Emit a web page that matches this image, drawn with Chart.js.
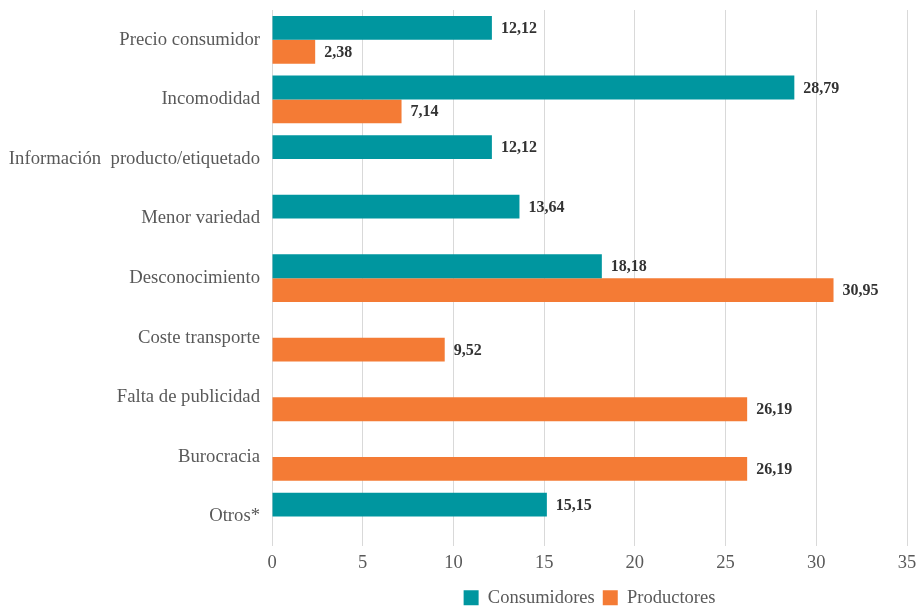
<!DOCTYPE html>
<html>
<head>
<meta charset="utf-8">
<script src="https://cdn.jsdelivr.net/npm/chart.js@4.4.0/dist/chart.umd.min.js"></script>
<style>
  body { margin: 0; background: #fff; }
  #wrap { width: 918px; height: 607px; }
</style>
</head>
<body>
<div id="wrap"><canvas id="chart"></canvas></div>
<script>
'use strict';

const categories = [
  'Precio consumidor',
  'Incomodidad',
  'Información  producto/etiquetado',
  'Menor variedad',
  'Desconocimiento',
  'Coste transporte',
  'Falta de publicidad',
  'Burocracia',
  'Otros*'
];
const consumidores = [12.12, 28.79, 12.12, 13.64, 18.18, null, null, null, 15.15];
const productores = [2.38, 7.14, null, null, 30.95, 9.52, 26.19, 26.19, null];

const serif = '"Liberation Serif", serif';

// draws the value after the end of each bar
const valueLabels = {
  id: 'valueLabels',
  afterDatasetsDraw(chart) {
    const ctx = chart.ctx;
    ctx.save();
    ctx.font = 'bold 16px ' + serif;
    ctx.fillStyle = '#333';
    ctx.textAlign = 'left';
    ctx.textBaseline = 'middle';
    chart.data.datasets.forEach((ds, i) => {
      chart.getDatasetMeta(i).data.forEach((bar, j) => {
        const v = ds.data[j];
        if (v === null) return;
        ctx.fillText(v.toFixed(2).replace('.', ','), bar.x + 9, bar.y + 1);
      });
    });
    ctx.restore();
  }
};

let canvasElem = document.getElementById('chart');

function renderChart() {
  const data = {
    labels: categories,
    datasets: [
      {
        label: 'Consumidores',
        data: consumidores,
        backgroundColor: '#00969f'
      },
      {
        label: 'Productores',
        data: productores,
        backgroundColor: '#f47b35'
      }
    ]
  };
  let config = {
    type: 'bar',
    data: data,
    plugins: [valueLabels],
    options: {
      indexAxis: 'y',
      responsive: true,
      maintainAspectRatio: false,
      animation: false,
      layout: { padding: { left: 0, right: 11, top: 10, bottom: -10 } },
      datasets: {
        bar: { barPercentage: 1, categoryPercentage: 0.8 }
      },
      scales: {
        x: {
          min: 0,
          max: 35,
          ticks: { stepSize: 5, color: '#595959', font: { family: serif, size: 18.5 }, padding: 6 },
          grid: { color: '#d9d9d9', drawTicks: false },
          border: { display: false },
          afterFit(scale) {
            scale.paddingLeft = 0;
            scale.paddingRight = 0;
          }
        },
        y: {
          ticks: { color: '#595959', font: { family: serif, size: 18.7 }, padding: 12 },
          grid: { display: false, drawTicks: false },
          border: { display: false },
          afterFit(scale) {
            scale.width = 272;
            scale.paddingTop = 0;
            scale.paddingBottom = 0;
          }
        }
      },
      plugins: {
        legend: {
          position: 'bottom',
          fullSize: false,
          labels: {
            color: '#595959',
            font: { family: serif, size: 18.5 },
            boxWidth: 15,
            boxHeight: 15,
            padding: 8
          }
        },
        tooltip: { enabled: false }
      }
    }
  };
  new Chart(canvasElem, config);
}

renderChart();
</script>
</body>
</html>
